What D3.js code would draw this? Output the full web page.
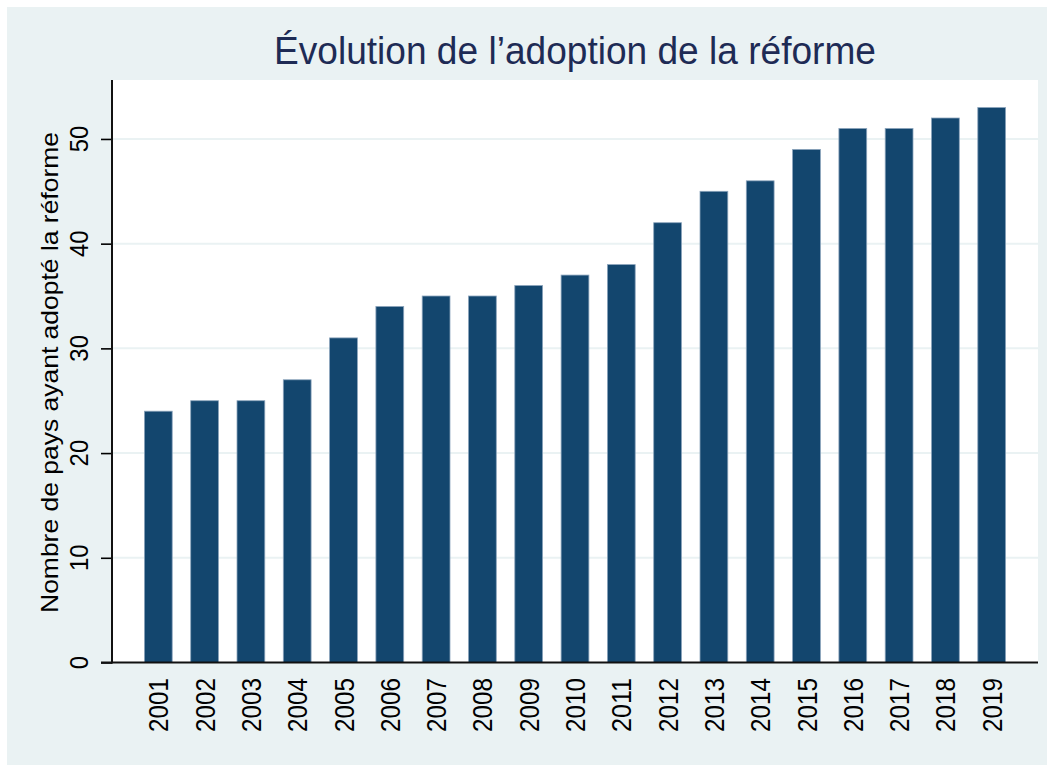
<!DOCTYPE html>
<html>
<head>
<meta charset="utf-8">
<script src="https://cdn.jsdelivr.net/npm/d3@7"></script>
<style>
  body { margin: 0; background: #ffffff; }
  text { font-family: "Liberation Sans", Arial, sans-serif; }
</style>
</head>
<body>
<svg id="chart" width="1054" height="772"></svg>
<script>
// data
var years = ["2001","2002","2003","2004","2005","2006","2007","2008","2009","2010",
             "2011","2012","2013","2014","2015","2016","2017","2018","2019"];
var counts = [24, 25, 25, 27, 31, 34, 35, 35, 36, 37, 38, 42, 45, 46, 49, 51, 51, 52, 53];
var yTicks = [0, 10, 20, 30, 40, 50];
var yTop = 55.63;   // value at top edge of plot region

var titleText = "Évolution de l’adoption de la réforme";
var yTitleText = "Nombre de pays ayant adopté la réforme";

var svg = d3.select("#chart");

// outer background (graph region)
svg.append("rect")
    .attr("x", 7).attr("y", 7)
    .attr("width", 1040).attr("height", 758)
    .style("fill", "#eaf2f3");

var plot = { left: 112, right: 1038, top: 80, bottom: 662.5 };

svg.append("rect")
    .attr("x", plot.left).attr("y", plot.top)
    .attr("width", plot.right - plot.left)
    .attr("height", plot.bottom - plot.top)
    .style("fill", "#ffffff");

var x = d3.scaleBand()
    .domain(years)
    .range([plot.left, plot.right])
    .paddingInner(0.4)
    .paddingOuter(0.7);

var y = d3.scaleLinear()
    .domain([0, yTop])
    .range([plot.bottom, plot.top]);

// gridlines
svg.append("g").selectAll("line")
    .data(yTicks.filter(d => d > 0))
    .join("line")
    .attr("x1", plot.left).attr("x2", plot.right)
    .attr("y1", d => y(d)).attr("y2", d => y(d))
    .style("stroke", "#eaf2f3")
    .style("stroke-width", 2);

// bars
svg.append("g").selectAll("rect")
    .data(years.map((yr, i) => ({ year: yr, value: counts[i] })))
    .join("rect")
    .attr("x", d => x(d.year))
    .attr("width", x.bandwidth())
    .attr("y", d => y(d.value))
    .attr("height", d => y(0) - y(d.value))
    .style("fill", "#13466e")
    .style("stroke", "#8aa3bb")
    .style("stroke-width", 0.8);

// y axis
var yAxis = d3.axisLeft(y)
    .tickValues(yTicks)
    .tickSize(11)
    .tickFormat("");
var gy = svg.append("g")
    .attr("transform", "translate(" + plot.left + ",0)")
    .call(yAxis);
gy.select(".domain").remove();
gy.selectAll(".tick line").style("stroke", "#000").style("stroke-width", 1.6);

svg.append("line")
    .attr("x1", plot.left).attr("x2", plot.left)
    .attr("y1", plot.top).attr("y2", plot.bottom + 1)
    .style("stroke", "#111").style("stroke-width", 2);

svg.append("g").selectAll("text")
    .data(yTicks)
    .join("text")
    .attr("transform", d => "translate(88," + y(d) + ") rotate(-90)")
    .attr("text-anchor", "middle")
    .attr("textLength", d => String(d).length * 13.3)
    .attr("lengthAdjust", "spacingAndGlyphs")
    .style("font-size", "26px")
    .style("fill", "#000")
    .text(d => d);

// x axis
svg.append("line")
    .attr("x1", plot.left - 11).attr("x2", plot.right)
    .attr("y1", plot.bottom).attr("y2", plot.bottom)
    .style("stroke", "#111").style("stroke-width", 2);

svg.append("g").selectAll("text")
    .data(years)
    .join("text")
    .attr("transform", d => "translate(" + (x(d) + x.bandwidth() / 2 + 10) + ",678) rotate(-90)")
    .attr("text-anchor", "end")
    .attr("textLength", 54)
    .attr("lengthAdjust", "spacingAndGlyphs")
    .style("font-size", "27px")
    .style("fill", "#000")
    .text(d => d);

// y title
svg.append("text")
    .attr("transform", "translate(57.5,372.5) rotate(-90)")
    .attr("text-anchor", "middle")
    .attr("textLength", 481)
    .attr("lengthAdjust", "spacingAndGlyphs")
    .style("font-size", "24px")
    .style("fill", "#000")
    .text(yTitleText);

// title
svg.append("text")
    .attr("x", (plot.left + plot.right) / 2)
    .attr("y", 63.5)
    .attr("text-anchor", "middle")
    .attr("textLength", 602)
    .attr("lengthAdjust", "spacingAndGlyphs")
    .style("font-size", "38px")
    .style("fill", "#1e2b55")
    .text(titleText);
</script>
</body>
</html>
